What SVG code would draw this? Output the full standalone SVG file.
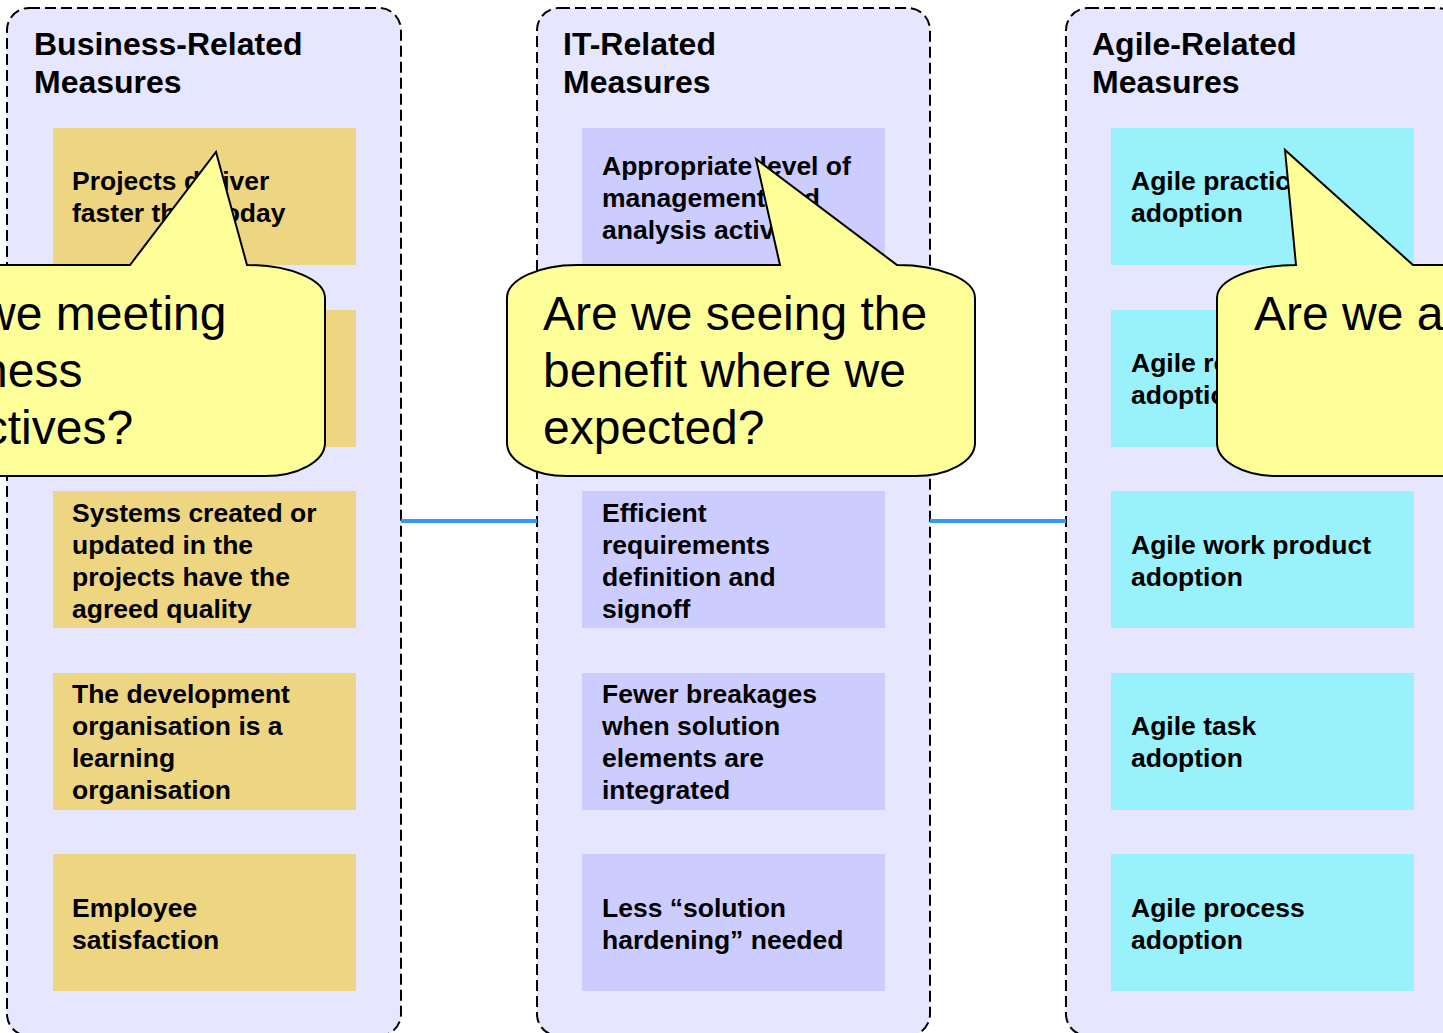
<svg xmlns="http://www.w3.org/2000/svg" width="1443" height="1033" viewBox="0 0 1443 1033">
<style>
.cont{fill:#E6E6FF;stroke:#000;stroke-width:2;stroke-dasharray:11 5}
.hdr{font-family:"Liberation Sans",Arial,sans-serif;font-weight:bold;font-size:32px;fill:#000}
.bt{font-family:"Liberation Sans",Arial,sans-serif;font-weight:bold;font-size:26.5px;fill:#000}
.biz{fill:#EED582}
.it{fill:#CCCCFF}
.ag{fill:#99F1FB}
.call{fill:#FFFF99;stroke:#000;stroke-width:2;stroke-linejoin:miter}
.ct{font-family:"Liberation Sans",Arial,sans-serif;font-size:48px;fill:#000}
.conn{stroke:#3399FF;stroke-width:4;fill:none}
</style>
<rect width="1443" height="1033" fill="#fff"/>
<g id="col-business">
<rect class="cont" x="7" y="8" width="394" height="1028" rx="22"/>
<text class="hdr" x="34" y="55">Business-Related</text>
<text class="hdr" x="34" y="93">Measures</text>
</g>
<g id="col-it">
<rect class="cont" x="537" y="8" width="393" height="1028" rx="22"/>
<text class="hdr" x="563" y="55">IT-Related</text>
<text class="hdr" x="563" y="93">Measures</text>
</g>
<g id="col-agile">
<rect class="cont" x="1066" y="8" width="393" height="1028" rx="22"/>
<text class="hdr" x="1092" y="55">Agile-Related</text>
<text class="hdr" x="1092" y="93">Measures</text>
</g>
<g id="connectors">
<line class="conn" x1="401" y1="521" x2="537" y2="521"/>
<line class="conn" x1="930" y1="521" x2="1066" y2="521"/>
</g>
<g id="b1"><rect class="biz" x="53" y="128" width="303" height="137"/><text class="bt" x="72" y="190">Projects deliver</text><text class="bt" x="72" y="222">faster than today</text></g>
<g id="b2"><rect class="biz" x="53" y="310" width="303" height="137"/></g>
<g id="b3"><rect class="biz" x="53" y="491" width="303" height="137"/><text class="bt" x="72" y="522">Systems created or</text><text class="bt" x="72" y="554">updated in the</text><text class="bt" x="72" y="586">projects have the</text><text class="bt" x="72" y="618">agreed quality</text></g>
<g id="b4"><rect class="biz" x="53" y="673" width="303" height="137"/><text class="bt" x="72" y="703">The development</text><text class="bt" x="72" y="735">organisation is a</text><text class="bt" x="72" y="767">learning</text><text class="bt" x="72" y="799">organisation</text></g>
<g id="b5"><rect class="biz" x="53" y="854" width="303" height="137"/><text class="bt" x="72" y="917">Employee</text><text class="bt" x="72" y="949">satisfaction</text></g>
<g id="i1"><rect class="it" x="582" y="128" width="303" height="137"/><text class="bt" x="602" y="175">Appropriate level of</text><text class="bt" x="602" y="207">management and</text><text class="bt" x="602" y="239">analysis activity</text></g>
<g id="i2"><rect class="it" x="582" y="310" width="303" height="137"/></g>
<g id="i3"><rect class="it" x="582" y="491" width="303" height="137"/><text class="bt" x="602" y="522">Efficient</text><text class="bt" x="602" y="554">requirements</text><text class="bt" x="602" y="586">definition and</text><text class="bt" x="602" y="618">signoff</text></g>
<g id="i4"><rect class="it" x="582" y="673" width="303" height="137"/><text class="bt" x="602" y="703">Fewer breakages</text><text class="bt" x="602" y="735">when solution</text><text class="bt" x="602" y="767">elements are</text><text class="bt" x="602" y="799">integrated</text></g>
<g id="i5"><rect class="it" x="582" y="854" width="303" height="137"/><text class="bt" x="602" y="917">Less “solution</text><text class="bt" x="602" y="949">hardening” needed</text></g>
<g id="a1"><rect class="ag" x="1111" y="128" width="303" height="137"/><text class="bt" x="1131" y="190">Agile practice</text><text class="bt" x="1131" y="222">adoption</text></g>
<g id="a2"><rect class="ag" x="1111" y="310" width="303" height="137"/><text class="bt" x="1131" y="372">Agile role</text><text class="bt" x="1131" y="404">adoption</text></g>
<g id="a3"><rect class="ag" x="1111" y="491" width="303" height="137"/><text class="bt" x="1131" y="554">Agile work product</text><text class="bt" x="1131" y="586">adoption</text></g>
<g id="a4"><rect class="ag" x="1111" y="673" width="303" height="137"/><text class="bt" x="1131" y="735">Agile task</text><text class="bt" x="1131" y="767">adoption</text></g>
<g id="a5"><rect class="ag" x="1111" y="854" width="303" height="137"/><text class="bt" x="1131" y="917">Agile process</text><text class="bt" x="1131" y="949">adoption</text></g>
<g id="callout-business">
<path class="call" d="M-73 265 H130 L216 152 L247 265 A78 33 0 0 1 325 298 V443 A60 33 0 0 1 265 476 H-73 A70 33 0 0 1 -143 443 V298 A70 33 0 0 1 -73 265 Z"/>
<text class="ct" x="-107" y="330">Are we meeting</text>
<text class="ct" x="-107" y="387">business</text>
<text class="ct" x="-107" y="444">objectives?</text>
</g>
<g id="callout-it">
<path class="call" d="M577 265 H780 L756 159 L897 265 A78 33 0 0 1 975 298 V443 A60 33 0 0 1 915 476 H567 A60 33 0 0 1 507 443 V298 A70 33 0 0 1 577 265 Z"/>
<text class="ct" x="543" y="330">Are we seeing the</text>
<text class="ct" x="543" y="387">benefit where we</text>
<text class="ct" x="543" y="444">expected?</text>
</g>
<g id="callout-agile">
<path class="call" d="M1296 265 L1285 150 L1413 265 H1607 A78 33 0 0 1 1685 298 V443 A60 33 0 0 1 1625 476 H1277 A60 33 0 0 1 1217 443 V298 A79 33 0 0 1 1296 265 Z"/>
<text class="ct" x="1254" y="330">Are we a</text>
</g>
</svg>
